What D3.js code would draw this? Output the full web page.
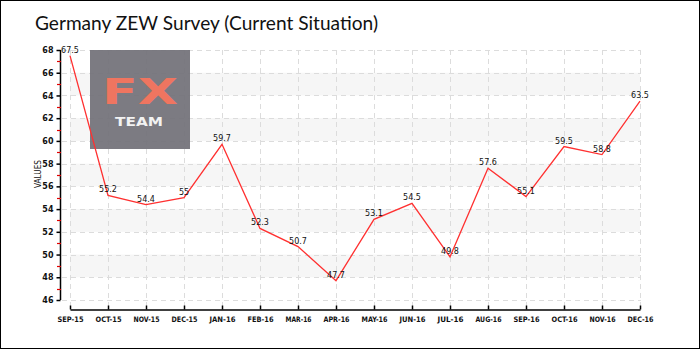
<!DOCTYPE html>
<html>
<head>
<meta charset="utf-8">
<script src="https://cdn.jsdelivr.net/npm/d3@7/dist/d3.min.js"></script>
<style>
  html, body { margin: 0; padding: 0; background: #fff; }
  svg { display: block; }
</style>
</head>
<body>
<svg id="chart" width="700" height="350"></svg>
<script>
// Germany ZEW survey, current situation index, monthly
const months = ["SEP-15","OCT-15","NOV-15","DEC-15","JAN-16","FEB-16","MAR-16","APR-16",
                "MAY-16","JUN-16","JUL-16","AUG-16","SEP-16","OCT-16","NOV-16","DEC-16"];
const values = [67.5, 55.2, 54.4, 55, 59.7, 52.3, 50.7, 47.7, 53.1, 54.5, 49.8, 57.6, 55.1, 59.5, 58.8, 63.5];
const valueLabels = ["67.5","55.2","54.4","55","59.7","52.3","50.7","47.7","53.1","54.5","49.8","57.6","55.1","59.5","58.8","63.5"];
const yTicks = [46, 48, 50, 52, 54, 56, 58, 60, 62, 64, 66, 68];
const yMinorTicks = [47, 49, 51, 53, 55, 57, 59, 61, 63, 65, 67];

const svg = d3.select("#chart");
const font = "'DejaVu Sans', sans-serif";

// outer frame
svg.append("rect")
  .attr("x", 0.5).attr("y", 0.5).attr("width", 699).attr("height", 348)
  .attr("fill", "#fff").attr("stroke", "#000").attr("stroke-width", 1);

// title
svg.append("text")
  .attr("x", 35).attr("y", 30)
  .attr("font-family", "Lato, sans-serif")
  .attr("font-size", 19)
  .attr("fill", "#111")
  .attr("textLength", 343).attr("lengthAdjust", "spacingAndGlyphs")
  .text("Germany ZEW Survey (Current Situation)");

const x = d3.scalePoint().domain(months).range([70, 640]);
const y = d3.scaleLinear().domain([46, 68]).range([300, 50]);

// alternating bands
const bands = [[48, 50], [52, 54], [56, 58], [60, 62], [64, 66]];
svg.append("g").selectAll("rect").data(bands).join("rect")
  .attr("x", 70).attr("width", 570)
  .attr("y", d => y(d[1])).attr("height", d => y(d[0]) - y(d[1]))
  .attr("fill", "#f6f6f6");

// dashed grid
const grid = svg.append("g")
  .attr("stroke", "#dcdcdc").attr("stroke-width", 1).attr("stroke-dasharray", "5,4");
grid.selectAll("line.h").data(yTicks).join("line").attr("class", "h")
  .attr("x1", 62).attr("x2", 641)
  .attr("y1", d => Math.round(y(d)) + 0.5).attr("y2", d => Math.round(y(d)) + 0.5);
grid.selectAll("line.v").data(months).join("line").attr("class", "v")
  .attr("x1", d => Math.round(x(d)) + 0.5).attr("x2", d => Math.round(x(d)) + 0.5)
  .attr("y1", 50).attr("y2", 306);

// logo
const logo = svg.append("g");
logo.append("rect")
  .attr("x", 90).attr("y", 50).attr("width", 100).attr("height", 99)
  .attr("fill", "#727179").attr("fill-opacity", 0.93);
logo.append("text")
  .attr("x", 140).attr("y", 104).attr("text-anchor", "middle")
  .attr("font-family", "'DejaVu Sans', sans-serif").attr("font-size", 36).attr("font-weight", "bold")
  .attr("fill", "#ef7560")
  .attr("textLength", 76).attr("lengthAdjust", "spacingAndGlyphs")
  .text("FX");
logo.append("text")
  .attr("x", 139).attr("y", 126).attr("text-anchor", "middle")
  .attr("font-family", "'DejaVu Sans', sans-serif").attr("font-size", 12).attr("font-weight", "bold")
  .attr("fill", "#f2f2f2")
  .attr("textLength", 48).attr("lengthAdjust", "spacingAndGlyphs")
  .text("TEAM");

// y axis
const yAxis = d3.axisLeft(y).tickValues(yTicks).tickSize(4).tickPadding(3).tickFormat(d3.format("d"));
const yg = svg.append("g").attr("transform", "translate(60.5,0)").call(yAxis);
yg.select(".domain").attr("stroke", "#000").attr("stroke-width", 1.5).attr("d", `M0,${y(46)}V${y(68)}`);
yg.selectAll(".tick line").attr("stroke", "#000").attr("stroke-width", 1.5);
yg.selectAll(".tick text").attr("font-family", font).attr("font-size", 8).attr("font-weight", "bold").attr("fill", "#111");
svg.append("g").selectAll("line").data(yMinorTicks).join("line")
  .attr("x1", 57).attr("x2", 61)
  .attr("y1", d => Math.round(y(d)) + 0.5).attr("y2", d => Math.round(y(d)) + 0.5)
  .attr("stroke", "#e00000").attr("stroke-width", 1.2);

// y axis title
svg.append("text")
  .attr("transform", "translate(41,174) rotate(-90)")
  .attr("text-anchor", "middle")
  .attr("font-family", font).attr("font-size", 8.5).attr("fill", "#111")
  .attr("textLength", 28).attr("lengthAdjust", "spacingAndGlyphs")
  .text("VALUES");

// x axis
const xAxis = d3.axisBottom(x).tickSizeInner(-4).tickSizeOuter(0).tickPadding(6);
const xg = svg.append("g").attr("transform", "translate(0,309.5)").call(xAxis);
xg.select(".domain").attr("stroke", "#000").attr("stroke-width", 1.5);
xg.selectAll(".tick line").attr("stroke", "#000").attr("stroke-width", 1.5);
xg.selectAll(".tick text").attr("font-family", font).attr("font-size", 7.5).attr("font-weight", "bold").attr("fill", "#111")
  .attr("textLength", 26).attr("lengthAdjust", "spacingAndGlyphs")
  .attr("dy", "0.9em");

// series line
const pts = months.map((m, i) => [x(m), y(values[i])]);
svg.append("path")
  .attr("d", d3.line()(pts))
  .attr("fill", "none").attr("stroke", "#ff3030").attr("stroke-width", 1.3);

// value labels
svg.append("g").selectAll("text").data(months).join("text")
  .attr("x", d => x(d)).attr("y", (d, i) => y(values[i]) - 3)
  .attr("text-anchor", "middle")
  .attr("font-family", font).attr("font-size", 8).attr("fill", "#111")
  .text((d, i) => valueLabels[i]);
</script>
</body>
</html>
